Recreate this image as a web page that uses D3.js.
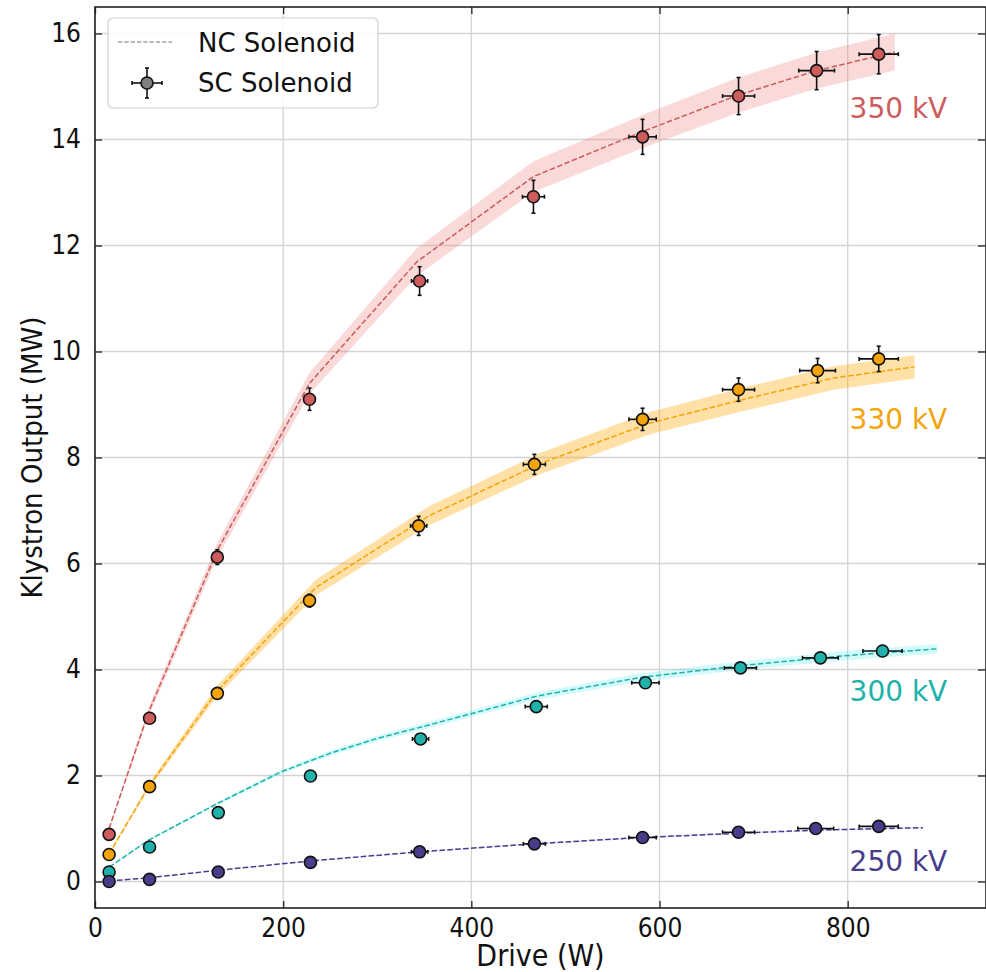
<!DOCTYPE html>
<html>
<head>
<meta charset="utf-8">
<script src="https://cdn.jsdelivr.net/npm/d3@7"></script>
<style>
body { margin: 0; background: #fff; }
svg { display: block; font-family: "DejaVu Sans", sans-serif; }
.cond { font-family: "DejaVu Sans Condensed", "DejaVu Sans", sans-serif; font-stretch: condensed; }
</style>
</head>
<body>
<svg id="chart" width="986" height="972"></svg>
<script>
// series labels and colours
var voltages = ['350 kV', '330 kV', '300 kV', '250 kV'];
var lineColors = ['#cd5c5c', '#f5a30a', '#20b2aa', '#483d8b'];
var bandColors = ['#f08080', '#ffa500', '#00e5e5', '#9370db'];
var bandOpacity = [0.3, 0.35, 0.17, 0.15];

// NC solenoid (dashed line + band)
var ncDrive350 = [15, 57, 130, 228, 342, 466, 582, 684, 767, 850];
var ncOut350 = [1.0, 3.2, 6.25, 9.4, 11.69, 13.3, 14.15, 14.84, 15.3, 15.65];
var ncErr350 = [0.03, 0.08, 0.14, 0.2, 0.26, 0.29, 0.31, 0.33, 0.34, 0.35];
var ncDrive330 = [15, 57, 130, 235, 355, 475, 590, 690, 785, 871];
var ncOut330 = [0.52, 1.79, 3.6, 5.55, 6.9, 7.9, 8.65, 9.1, 9.5, 9.71];
var ncErr330 = [0.014, 0.05, 0.1, 0.15, 0.18, 0.2, 0.21, 0.22, 0.22, 0.22];
var ncDrive300 = [15, 57, 130, 198, 250, 300, 350, 470, 580, 690, 790, 895];
var ncOut300 = [0.27, 0.78, 1.47, 2.07, 2.42, 2.7, 2.93, 3.5, 3.85, 4.08, 4.25, 4.39];
var ncErr300 = [0.01, 0.02, 0.03, 0.04, 0.05, 0.055, 0.06, 0.07, 0.08, 0.08, 0.09, 0.09];
var ncDrive250 = [15, 57, 130, 230, 345, 466, 580, 684, 766, 880];
var ncOut250 = [0.01, 0.07, 0.21, 0.39, 0.56, 0.71, 0.83, 0.91, 0.97, 1.015];
var ncErr250 = [0.002, 0.004, 0.006, 0.01, 0.012, 0.015, 0.018, 0.02, 0.02, 0.02];

// SC solenoid (points with error bars)
var scDrive350 = [15, 58, 130, 228, 345, 466, 582, 684, 767, 833];
var scOut350 = [0.89, 3.08, 6.12, 9.10, 11.33, 12.92, 14.05, 14.82, 15.30, 15.61];
var scOutErr350 = [0.03, 0.07, 0.14, 0.21, 0.27, 0.31, 0.33, 0.35, 0.36, 0.37];
var scDrive330 = [15, 58, 130, 228, 344, 467, 582, 684, 768, 833];
var scOut330 = [0.51, 1.79, 3.55, 5.30, 6.71, 7.87, 8.72, 9.28, 9.64, 9.86];
var scOutErr330 = [0.02, 0.04, 0.08, 0.12, 0.18, 0.19, 0.21, 0.22, 0.23, 0.24];
var scDrive300 = [15, 58, 131, 229, 346, 469, 585, 686, 771, 837];
var scOut300 = [0.18, 0.65, 1.30, 1.99, 2.69, 3.30, 3.75, 4.03, 4.22, 4.35];
var scOutErr300 = [0.005, 0.02, 0.03, 0.05, 0.06, 0.07, 0.08, 0.09, 0.09, 0.1];
var scDrive250 = [15, 58, 131, 229, 345, 467, 582, 684, 766, 833];
var scOut250 = [0.0, 0.04, 0.18, 0.36, 0.56, 0.71, 0.83, 0.93, 1.0, 1.04];
var scOutErr250 = [0.001, 0.003, 0.005, 0.01, 0.015, 0.02, 0.02, 0.02, 0.025, 0.025];
var scDriveErr = [0.4, 1.4, 3.3, 5.7, 8.6, 11.7, 14.5, 17, 19, 20.8];

// voltage label anchors (data coords)
var labelDrive = [802, 802, 802, 802];
var labelOut = [14.41, 8.53, 3.41, 0.20];

var xTicks = [0, 200, 400, 600, 800];
var yTicks = [0, 2, 4, 6, 8, 10, 12, 14, 16];

var nc = [
    [ncDrive350, ncOut350, ncErr350],
    [ncDrive330, ncOut330, ncErr330],
    [ncDrive300, ncOut300, ncErr300],
    [ncDrive250, ncOut250, ncErr250]
];
var sc = [
    [scDrive350, scOut350, scOutErr350],
    [scDrive330, scOut330, scOutErr330],
    [scDrive300, scOut300, scOutErr300],
    [scDrive250, scOut250, scOutErr250]
];

function drawChart() {
    var svg = d3.select('#chart');
    var left = 95, right = 986, top = 7, bottom = 908;

    var x = d3.scaleLinear().domain([0, 947]).range([left, right]);
    var y = d3.scaleLinear().domain([-0.5, 16.5]).range([bottom, top]);

    // grid
    var grid = svg.append('g').attr('stroke', '#d4d4d4').attr('stroke-width', 1.3);
    xTicks.forEach(function (t) {
        grid.append('line').attr('x1', x(t)).attr('x2', x(t)).attr('y1', top).attr('y2', bottom);
    });
    yTicks.forEach(function (t) {
        grid.append('line').attr('x1', left).attr('x2', right).attr('y1', y(t)).attr('y2', y(t));
    });

    // bands
    for (var i = 0; i < nc.length; i++) {
        var pts = nc[i][0].map(function (d, j) { return {x: d, y: nc[i][1][j], e: nc[i][2][j]}; });
        var area = d3.area()
            .x(function (d) { return x(d.x); })
            .y0(function (d) { return y(d.y - d.e); })
            .y1(function (d) { return y(d.y + d.e); });
        svg.append('path')
            .datum(pts)
            .attr('d', area)
            .attr('fill', bandColors[i])
            .attr('fill-opacity', bandOpacity[i]);
    }

    // dashed NC lines
    for (var i = 0; i < nc.length; i++) {
        var pts = nc[i][0].map(function (d, j) { return {x: d, y: nc[i][1][j]}; });
        var line = d3.line().x(function (d) { return x(d.x); }).y(function (d) { return y(d.y); });
        svg.append('path')
            .datum(pts)
            .attr('d', line)
            .attr('fill', 'none')
            .attr('stroke', lineColors[i])
            .attr('stroke-width', 1.5)
            .attr('stroke-dasharray', '5.5,2.4');
    }

    // SC error bars + markers
    var cap = 2;
    for (var i = 0; i < sc.length; i++) {
        var g = svg.append('g');
        for (var j = 0; j < sc[i][0].length; j++) {
            var dx = sc[i][0][j], dy = sc[i][1][j];
            var ex = scDriveErr[j], ey = sc[i][2][j];
            var eb = g.append('g').attr('stroke', '#111').attr('stroke-width', 1.6);
            eb.append('line').attr('x1', x(dx - ex)).attr('x2', x(dx + ex)).attr('y1', y(dy)).attr('y2', y(dy));
            eb.append('line').attr('x1', x(dx)).attr('x2', x(dx)).attr('y1', y(dy - ey)).attr('y2', y(dy + ey));
            eb.append('line').attr('x1', x(dx - ex)).attr('x2', x(dx - ex)).attr('y1', y(dy) - cap).attr('y2', y(dy) + cap);
            eb.append('line').attr('x1', x(dx + ex)).attr('x2', x(dx + ex)).attr('y1', y(dy) - cap).attr('y2', y(dy) + cap);
            eb.append('line').attr('x1', x(dx) - cap).attr('x2', x(dx) + cap).attr('y1', y(dy - ey)).attr('y2', y(dy - ey));
            eb.append('line').attr('x1', x(dx) - cap).attr('x2', x(dx) + cap).attr('y1', y(dy + ey)).attr('y2', y(dy + ey));
        }
        for (var j = 0; j < sc[i][0].length; j++) {
            g.append('circle')
                .attr('cx', x(sc[i][0][j]))
                .attr('cy', y(sc[i][1][j]))
                .attr('r', 6)
                .attr('fill', lineColors[i])
                .attr('stroke', '#111')
                .attr('stroke-width', 1.6);
        }
    }

    // voltage labels
    for (var i = 0; i < voltages.length; i++) {
        svg.append('text')
            .text(voltages[i])
            .attr('x', x(labelDrive[i]))
            .attr('y', y(labelOut[i]))
            .attr('fill', lineColors[i])
            .style('font-size', '28px');
    }

    // axes, inward ticks on all sides
    var ax = svg.append('g').attr('transform', 'translate(0,' + bottom + ')')
        .call(d3.axisBottom(x).tickValues(xTicks).tickSizeInner(-7).tickSizeOuter(0).tickPadding(11));
    var ay = svg.append('g').attr('transform', 'translate(' + left + ',0)')
        .call(d3.axisLeft(y).tickValues(yTicks).tickSizeInner(-7).tickSizeOuter(0).tickPadding(14));
    svg.append('g').attr('transform', 'translate(0,' + top + ')')
        .call(d3.axisTop(x).tickValues(xTicks).tickSizeInner(-7).tickSizeOuter(0).tickFormat(''));
    svg.append('g').attr('transform', 'translate(' + (right - 1) + ',0)')
        .call(d3.axisRight(y).tickValues(yTicks).tickSizeInner(-7).tickSizeOuter(0).tickFormat(''));
    svg.selectAll('.domain').remove();
    svg.selectAll('.tick line').attr('stroke', '#222').attr('stroke-width', 1.3);
    [ax, ay].forEach(function (a) {
        a.selectAll('text').attr('class', 'cond').style('font-size', '26px').attr('fill', '#111');
    });

    // spines
    svg.append('rect')
        .attr('x', left).attr('y', top)
        .attr('width', right - left).attr('height', bottom - top)
        .attr('fill', 'none').attr('stroke', '#222').attr('stroke-width', 1.6);

    // axis titles
    svg.append('text')
        .text('Drive (W)')
        .attr('class', 'cond')
        .attr('x', (left + right) / 2)
        .attr('y', 966)
        .attr('text-anchor', 'middle')
        .attr('fill', '#111')
        .style('font-size', '30px');
    svg.append('text')
        .text('Klystron Output (MW)')
        .attr('class', 'cond')
        .attr('transform', 'translate(42,' + ((top + bottom) / 2) + ') rotate(-90)')
        .attr('text-anchor', 'middle')
        .attr('fill', '#111')
        .style('font-size', '29px');

    // legend
    var lg = svg.append('g');
    lg.append('rect')
        .attr('x', 108).attr('y', 18).attr('width', 270).attr('height', 90).attr('rx', 5)
        .attr('fill', '#fff').attr('fill-opacity', 0.8)
        .attr('stroke', '#d0d0d0').attr('stroke-width', 1.2);
    lg.append('line')
        .attr('x1', 118).attr('x2', 172).attr('y1', 42).attr('y2', 42)
        .attr('stroke', '#777').attr('stroke-width', 1.2).attr('stroke-dasharray', '4.4,1.9');
    lg.append('text').text('NC Solenoid').attr('x', 198).attr('y', 52).attr('fill', '#111').style('font-size', '26px');
    var lm = lg.append('g').attr('stroke', '#111').attr('stroke-width', 1.6);
    lm.append('line').attr('x1', 132).attr('x2', 162).attr('y1', 83).attr('y2', 83);
    lm.append('line').attr('x1', 147).attr('x2', 147).attr('y1', 68).attr('y2', 98);
    lm.append('line').attr('x1', 132).attr('x2', 132).attr('y1', 81).attr('y2', 85);
    lm.append('line').attr('x1', 162).attr('x2', 162).attr('y1', 81).attr('y2', 85);
    lm.append('line').attr('x1', 145).attr('x2', 149).attr('y1', 68).attr('y2', 68);
    lm.append('line').attr('x1', 145).attr('x2', 149).attr('y1', 98).attr('y2', 98);
    lg.append('circle').attr('cx', 147).attr('cy', 83).attr('r', 6)
        .attr('fill', '#808080').attr('stroke', '#111').attr('stroke-width', 1.6);
    lg.append('text').text('SC Solenoid').attr('x', 198).attr('y', 92).attr('fill', '#111').style('font-size', '26px');
}

window.onload = drawChart;
</script>
</body>
</html>
